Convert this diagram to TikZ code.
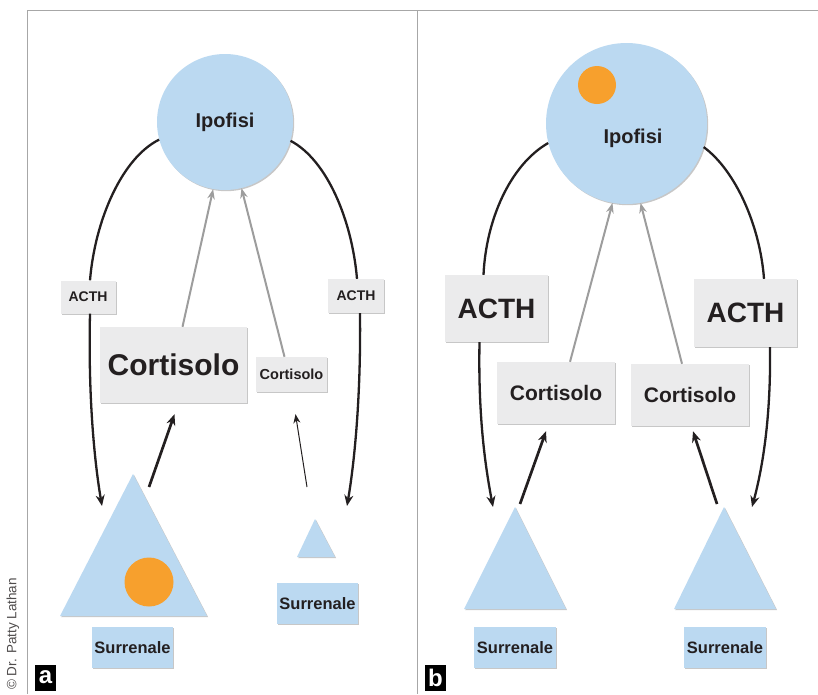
\documentclass[tikz,border=0pt]{standalone}
\usepackage{fontspec}
\setmainfont{Liberation Sans}
\usepackage{xcolor}
\usetikzlibrary{arrows.meta,shadows}

\definecolor{glandblue}{HTML}{BBD9F1}
\definecolor{boxgray}{HTML}{EBEBEC}
\definecolor{dotorange}{HTML}{F7A02D}
\definecolor{fbgray}{HTML}{9D9D9D}
\definecolor{framegray}{HTML}{A7A7A7}
\definecolor{inkdark}{HTML}{231F20}

\tikzset{
  softshadow/.style={drop shadow={shadow xshift=1.2pt, shadow yshift=-1.2pt, fill=black, opacity=0.22}},
  hormone/.style={fill=boxgray, softshadow, inner sep=0pt, text=inkdark, font=\bfseries},
  gland/.style={fill=glandblue, softshadow, inner sep=0pt, text=inkdark, font=\bfseries},
  axis/.style={draw=inkdark, line width=2.3pt},
  axisarrow/.style={axis, -{Stealth[length=11pt,width=9pt]}},
  feedback/.style={draw=fbgray, line width=2pt, -{Stealth[length=10pt,width=7.5pt]}},
  release/.style={draw=inkdark, line width=2.7pt, -{Stealth[length=11pt,width=9pt]}},
  panellabel/.style={fill=black, text=white, inner sep=0pt, minimum width=21pt, minimum height=26pt, font=\bfseries\fontsize{24}{24}\selectfont}
}
\newcommand{\fsz}[1]{\fontsize{#1}{#1}\selectfont}

\begin{document}
\begin{tikzpicture}[x=1pt, y=-1pt]
        \useasboundingbox (0,0) rectangle (818,694);
        % Panel frames
        \draw[framegray, line width=1pt] (27,694) -- (27,10) -- (818,10);
        \draw[framegray, line width=1pt] (417,10) -- (417,694);
        \node[rotate=90, text=inkdark!80, font=\fsz{13.5}] (credit) at (13,634) {© Dr. Patty Lathan};

        % ---------- Panel a ----------
        \node[circle, gland, minimum size=136pt, font=\bfseries\fsz{20}] (ipoA) at (225,122) {Ipofisi};
        \node[hormone, minimum width=55pt, minimum height=33pt, font=\bfseries\fsz{14}] (acthA1) at (88,297) {ACTH};
        \node[hormone, minimum width=56pt, minimum height=34pt, font=\bfseries\fsz{14}] (acthA2) at (356,296) {ACTH};
        \node[hormone, minimum width=147pt, minimum height=76pt, font=\bfseries\fsz{30}] (cortA1) at (173.5,365) {Cortisolo};
        \node[hormone, minimum width=71pt, minimum height=35pt, font=\bfseries\fsz{14.5}] (cortA2) at (291.5,374.5) {Cortisolo};
        \fill[glandblue, softshadow] (133,474) -- (60,616) -- (207,616) -- cycle;
        \fill[dotorange] (149,582) circle[radius=24.5];
        \fill[glandblue, softshadow] (315,519) -- (297,557) -- (335,557) -- cycle;
        \node[gland, minimum width=81pt, minimum height=41pt, font=\bfseries\fsz{16.5}] (surA1) at (132.5,647.5) {Surrenale};
        \node[gland, minimum width=81pt, minimum height=41pt, font=\bfseries\fsz{16.5}] (surA2) at (317.5,603.5) {Surrenale};
        \coordinate (inA1) at (102,506);
        \coordinate (inA2) at (347,506);
        \coordinate (outA1) at (149,487);
        \coordinate (outA2) at (307,487);

        \draw[axis] (ipoA.195) .. controls (122,158) and (95,220) .. ([xshift=2pt]acthA1.north);
        \draw[axisarrow] ([xshift=2pt]acthA1.south) .. controls (88,400) and (95,465) .. (inA1);
        \draw[axis] (ipoA.-16) .. controls (327,160) and (352,220) .. ([xshift=1pt]acthA2.north);
        \draw[axisarrow] ([xshift=4pt]acthA2.south) .. controls (361,400) and (354,465) .. (inA2);
        \draw[feedback] ([xshift=9pt]cortA1.north) -- (ipoA.260);
        \draw[feedback] ([xshift=-7pt]cortA2.north) -- (ipoA.284);
        \draw[release] (outA1) -- ([xshift=1pt,yshift=-11pt]cortA1.south);
        \draw[draw=inkdark, line width=1pt, -{Stealth[length=9pt,width=7pt]}] (outA2) -- ([xshift=4pt,yshift=-22pt]cortA2.south);
        \node[panellabel] (labA) at (45.5,677.5) {a};

        % ---------- Panel b ----------
        \node[circle, gland, minimum size=161pt] (ipoB) at (626.5,123.5) {};
        \fill[dotorange] (597,85) circle[radius=19];
        \node[inner sep=0pt, text=inkdark, font=\bfseries\fsz{20}] (ipoBtxt) at (633,138) {Ipofisi};
        \node[hormone, minimum width=103pt, minimum height=67pt, font=\bfseries\fsz{28}] (acthB1) at (496.5,308.5) {ACTH};
        \node[hormone, minimum width=103pt, minimum height=68pt, font=\bfseries\fsz{28}] (acthB2) at (745.5,313) {ACTH};
        \node[hormone, minimum width=118pt, minimum height=62pt, font=\bfseries\fsz{21}] (cortB1) at (556,393) {Cortisolo};
        \node[hormone, minimum width=118pt, minimum height=62pt, font=\bfseries\fsz{21}] (cortB2) at (690,395) {Cortisolo};
        \fill[glandblue, softshadow] (515,507) -- (464,609) -- (566,609) -- cycle;
        \fill[glandblue, softshadow] (724,507) -- (674,609) -- (776,609) -- cycle;
        \node[gland, minimum width=82pt, minimum height=41pt, font=\bfseries\fsz{16.5}] (surB1) at (515,647.5) {Surrenale};
        \node[gland, minimum width=82pt, minimum height=41pt, font=\bfseries\fsz{16.5}] (surB2) at (725,647.5) {Surrenale};
        \coordinate (inB1) at (493,507);
        \coordinate (inB2) at (752,507);
        \coordinate (outB1) at (520,504);
        \coordinate (outB2) at (717,504);

        \draw[axis] (ipoB.194) .. controls (510,165) and (486,220) .. ([xshift=-13pt]acthB1.north);
        \draw[axisarrow] ([xshift=-17pt]acthB1.south) .. controls (478,420) and (486,470) .. (inB1);
        \draw[axis] (ipoB.-17) .. controls (735,170) and (760,225) .. ([xshift=18.5pt]acthB2.north);
        \draw[axisarrow] ([xshift=24.5pt]acthB2.south) .. controls (771,420) and (762,470) .. (inB2);
        \draw[feedback] ([xshift=14pt]cortB1.north) -- (ipoB.260);
        \draw[feedback] ([xshift=-8pt]cortB2.north) -- (ipoB.280);
        \draw[release] (outB1) -- ([xshift=-10pt,yshift=-7pt]cortB1.south);
        \draw[release] (outB2) -- ([xshift=3pt,yshift=-5pt]cortB2.south);
        \node[panellabel] (labB) at (435.5,677.5) {b};
    \end{tikzpicture}
\end{document}
